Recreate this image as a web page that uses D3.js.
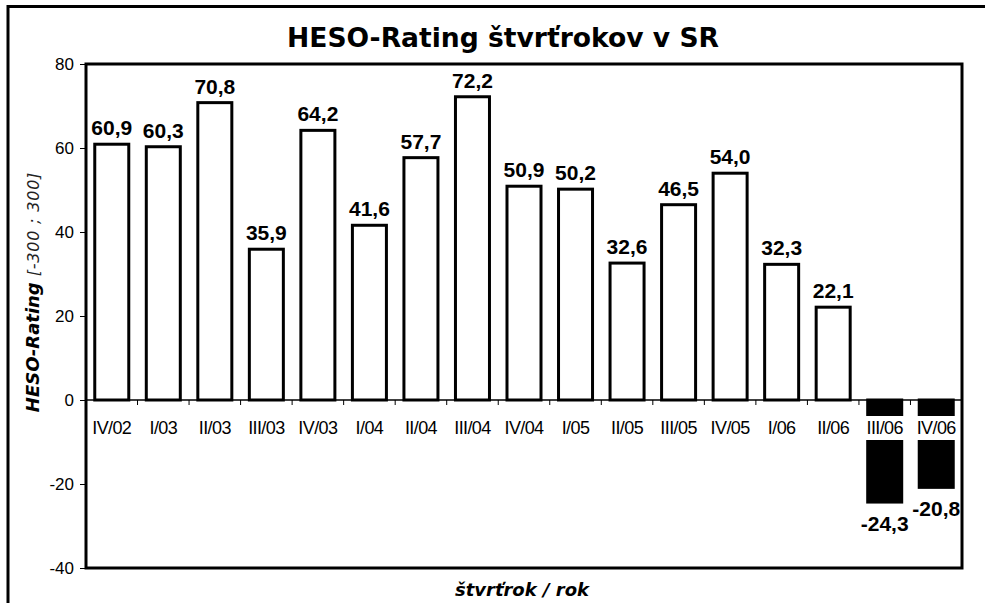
<!DOCTYPE html>
<html>
<head>
<meta charset="utf-8">
<script src="https://cdn.jsdelivr.net/npm/d3@7"></script>
<style>
  html, body { margin: 0; padding: 0; background: #fff; }
  svg { display: block; }
</style>
</head>
<body>
<svg id="chart" width="985" height="603"></svg>
<script>
const categories = ["IV/02","I/03","II/03","III/03","IV/03","I/04","II/04","III/04","IV/04","I/05","II/05","III/05","IV/05","I/06","II/06","III/06","IV/06"];
const values = [60.9, 60.3, 70.8, 35.9, 64.2, 41.6, 57.7, 72.2, 50.9, 50.2, 32.6, 46.5, 54.0, 32.3, 22.1, -24.3, -20.8];
const yTicks = [-40, -20, 0, 20, 40, 60, 80];
const titleText = "HESO-Rating štvrťrokov v SR";
const yTitleMain = "HESO-Rating";
const yTitleSub = " [-300 ; 300]";
const xTitleText = "štvrťrok / rok";

const svg = d3.select("#chart");
const m = { left: 86, right: 962, top: 64, bottom: 568 };

// outer frame
svg.append("rect").attr("x", 8).attr("y", 6.5).attr("width", 1000).attr("height", 700)
  .attr("fill", "#fff").attr("stroke", "#000").attr("stroke-width", 3);

const x = d3.scaleBand().domain(categories).range([m.left, m.right]).paddingInner(0.34).paddingOuter(0.17);
const xb = d3.scaleBand().domain(categories).range([m.left, m.right]);
const y = d3.scaleLinear().domain([-40, 80]).range([m.bottom, m.top]);

// title
svg.append("text").attr("x", 287).attr("y", 47)
  .attr("font-family", "DejaVu Sans").attr("font-weight", "bold")
  .attr("font-size", 27).attr("textLength", 432).attr("lengthAdjust", "spacingAndGlyphs").text(titleText);

// bars
const data = categories.map((c, i) => ({ c, v: values[i] }));
svg.append("g").selectAll("rect").data(data).join("rect")
  .attr("x", d => x(d.c))
  .attr("width", x.bandwidth())
  .attr("y", d => y(Math.max(0, d.v)))
  .attr("height", d => Math.abs(y(d.v) - y(0)))
  .attr("fill", d => d.v < 0 ? "#000" : "#fff")
  .attr("stroke", "#000").attr("stroke-width", 3);

// zero axis with ticks
svg.append("line").attr("x1", m.left).attr("x2", m.right).attr("y1", y(0)).attr("y2", y(0))
  .attr("stroke", "#000").attr("stroke-width", 1.3);
svg.append("g").selectAll("line").data(categories.slice(1)).join("line")
  .attr("x1", d => xb(d)).attr("x2", d => xb(d))
  .attr("y1", y(0)).attr("y2", y(0) + 5)
  .attr("stroke", "#000").attr("stroke-width", 1);

// category labels with white background
const labG = svg.append("g").selectAll("g").data(categories).join("g")
  .attr("transform", d => `translate(${xb(d) + xb.bandwidth() / 2},0)`);
labG.append("rect").attr("x", -21).attr("width", 42).attr("y", 416).attr("height", 24).attr("fill", "#fff");
labG.append("text").attr("y", 434).attr("text-anchor", "middle")
  .attr("font-family", "Liberation Sans, Arial").attr("font-size", 18)
  .attr("letter-spacing", -0.6)
  .text(d => d);

// value labels
const fmt = v => d3.format(".1f")(v).replace(".", ",").replace("−", "-");
svg.append("g").selectAll("text").data(data).join("text")
  .attr("x", d => x(d.c) + x.bandwidth() / 2)
  .attr("y", d => d.v >= 0 ? y(d.v) - 9 : y(d.v) + 29)
  .attr("text-anchor", "middle")
  .attr("font-family", "Liberation Sans, Arial").attr("font-weight", "bold").attr("font-size", 21)
  .text(d => fmt(d.v));

// y axis
const yAxis = d3.axisLeft(y).tickValues(yTicks).tickSize(6).tickPadding(6).tickFormat(d => String(d));
const ya = svg.append("g").attr("transform", `translate(${m.left},0)`).call(yAxis);
ya.select(".domain").remove();
ya.selectAll("text").attr("font-family", "Liberation Sans, Arial").attr("font-size", 17).attr("fill", "#000");
ya.selectAll("line").attr("stroke", "#000");

// plot frame
svg.append("rect").attr("x", m.left).attr("y", m.top).attr("width", m.right - m.left).attr("height", m.bottom - m.top)
  .attr("fill", "none").attr("stroke", "#000").attr("stroke-width", 3);

// y title
const yt = svg.append("text").attr("transform", "translate(39,292) rotate(-90)").attr("text-anchor", "middle")
  .attr("font-family", "DejaVu Sans").attr("font-style", "italic");
yt.append("tspan").attr("font-weight", "bold").attr("font-size", 18).text(yTitleMain);
yt.append("tspan").attr("font-size", 16).attr("font-weight", "normal").attr("letter-spacing", 0.8).attr("fill", "#222").text(yTitleSub);

// x title
svg.append("text").attr("x", 522).attr("y", 596).attr("text-anchor", "middle")
  .attr("font-family", "DejaVu Sans").attr("font-style", "italic").attr("font-weight", "bold")
  .attr("font-size", 18).text(xTitleText);
</script>
</body>
</html>
